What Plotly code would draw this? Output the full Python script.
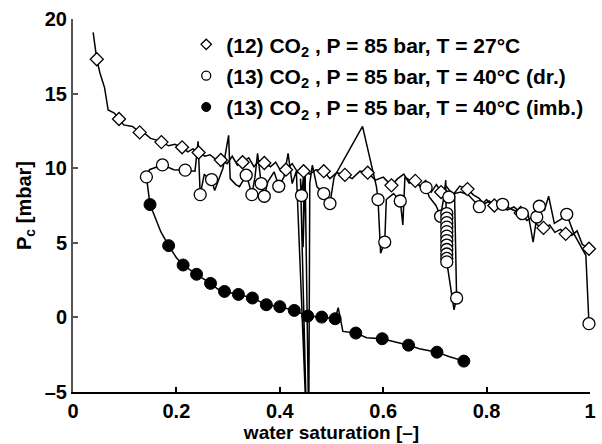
import plotly.graph_objects as go

# ---- series (12): CO2, P = 85 bar, T = 27 °C ----
sat_12_line = [0.039, 0.046, 0.052, 0.061, 0.068, 0.080, 0.089, 0.098, 0.115, 0.129,
               0.140, 0.150, 0.160, 0.171, 0.185, 0.197, 0.211, 0.222, 0.232, 0.243,
               0.255, 0.265, 0.276, 0.286, 0.298, 0.308, 0.318, 0.328, 0.340, 0.350,
               0.360, 0.370, 0.382, 0.392, 0.402, 0.412, 0.424, 0.435, 0.446, 0.458,
               0.470, 0.485, 0.497, 0.510, 0.526, 0.540, 0.555, 0.570, 0.585, 0.600,
               0.616, 0.628, 0.640, 0.650, 0.662, 0.673, 0.682, 0.693, 0.703, 0.712,
               0.722, 0.735, 0.748, 0.763, 0.775, 0.785, 0.795, 0.805, 0.815, 0.828,
               0.840, 0.853, 0.866, 0.878, 0.888, 0.898, 0.910, 0.922, 0.932, 0.943,
               0.953, 0.965, 0.975, 0.985, 0.998]
pc_12_line = [19.1, 17.3, 16.4, 15.4, 13.9, 13.7, 13.3, 12.9, 12.8, 12.4,
              12.3, 12.0, 11.9, 11.75, 11.5, 11.6, 11.4, 11.1, 11.3, 11.05,
              10.8, 10.9, 10.6, 10.55, 10.3, 10.8, 10.2, 10.4, 10.7, 10.1,
              10.5, 10.35, 10.1, 10.4, 9.8, 9.9, 10.3, 9.7, 9.8, 9.6,
              9.9, 9.8, 9.3, 9.7, 9.55, 9.3, 9.8, 9.7, 9.2, 9.4,
              8.85, 9.3, 9.6, 9.0, 9.15, 8.7, 9.2, 8.4, 8.9, 8.4,
              8.8, 8.2, 8.8, 8.6, 8.2, 8.0, 7.6, 7.8, 7.5, 7.7,
              7.2, 7.4, 7.0, 6.5, 6.7, 6.2, 6.0, 6.2, 5.7, 5.9,
              5.6, 5.5, 5.8, 4.9, 4.6]
sat_12_pts = [0.046, 0.089, 0.129, 0.171, 0.211, 0.243, 0.286, 0.328, 0.370, 0.412,
              0.446, 0.485, 0.526, 0.570, 0.616, 0.662, 0.712, 0.763, 0.815, 0.866,
              0.910, 0.953, 0.998]
pc_12_pts = [17.3, 13.3, 12.4, 11.75, 11.4, 11.05, 10.55, 10.4, 10.35, 9.9,
             9.8, 9.8, 9.55, 9.7, 8.85, 9.15, 8.4, 8.6, 7.5, 7.0,
             6.0, 5.6, 4.6]

# ---- series (13): CO2, P = 85 bar, T = 40 °C, drainage ----
sat_13d_line = [0.142, 0.148, 0.173, 0.195, 0.217, 0.236, 0.242, 0.246, 0.254, 0.262,
                0.268, 0.274, 0.290, 0.301, 0.304, 0.315, 0.322, 0.335, 0.340, 0.346,
                0.352, 0.357, 0.364, 0.370, 0.377, 0.389, 0.398, 0.408, 0.416, 0.424,
                0.432, 0.452, 0.440, 0.442, 0.447, 0.445, 0.449, 0.456, 0.458, 0.463,
                0.472, 0.485, 0.497, 0.505, 0.560, 0.587, 0.590, 0.595, 0.603, 0.606,
                0.620, 0.633, 0.638, 0.642, 0.660, 0.683, 0.689, 0.702, 0.711, 0.718,
                0.721, 0.723, 0.737, 0.742, 0.738, 0.750, 0.765, 0.786, 0.800, 0.815,
                0.831, 0.845, 0.858, 0.869, 0.880, 0.890, 0.897, 0.902, 0.912, 0.920,
                0.931, 0.945, 0.955, 0.969, 0.992, 0.998]
pc_13d_line = [9.42, 9.9, 10.22, 9.9, 9.87, 9.8, 11.8, 8.23, 9.6, 9.3,
               9.24, 8.5, 10.0, 12.2, 9.3, 8.9, 8.76, 9.53, 9.0, 8.23,
               9.4, 11.0, 8.97, 8.12, 9.1, 9.76, 8.79, 9.4, 11.0, 8.97,
               9.8, -7.5, 9.3, 8.17, 9.87, 4.7, 9.6, -7.5, 9.0, 10.2,
               8.75, 8.30, 7.63, 9.4, 12.8, 8.75, 7.90, 4.3, 5.05, 7.9,
               8.3, 7.80, 6.2, 9.4, 9.0, 8.70, 8.07, 7.5, 6.78, 8.2,
               9.2, 3.72, 0.5, 1.30, 8.3, 8.4, 8.2, 7.42, 7.9, 7.3,
               7.58, 7.3, 7.1, 6.96, 7.0, 5.05, 6.73, 7.45, 7.2, 8.12,
               6.3, 6.6, 6.91, 5.6, 4.16, -0.42]
sat_13d_pts = [0.142, 0.173, 0.217, 0.246, 0.268, 0.335, 0.346, 0.364, 0.370, 0.398,
               0.442, 0.485, 0.497, 0.590, 0.603, 0.633, 0.683, 0.711, 0.727,
               0.723, 0.723, 0.723, 0.723, 0.723, 0.723, 0.723, 0.723, 0.723, 0.723,
               0.723, 0.723,
               0.742, 0.786, 0.831, 0.869, 0.897, 0.902, 0.955, 0.998]
pc_13d_pts = [9.42, 10.22, 9.87, 8.23, 9.24, 9.53, 8.23, 8.97, 8.12, 8.79,
              8.17, 8.30, 7.63, 7.90, 5.05, 7.80, 8.70, 6.78, 8.07,
              6.96, 6.65, 6.35, 6.05, 5.75, 5.45, 5.15, 4.85, 4.55, 4.25,
              3.95, 3.72,
              1.30, 7.42, 7.58, 6.96, 6.73, 7.45, 6.91, -0.42]

# ---- series (13): CO2, P = 85 bar, T = 40 °C, imbibition ----
sat_13i_line = [0.142, 0.149, 0.170, 0.185, 0.200, 0.213, 0.239, 0.266, 0.280, 0.293,
                0.320, 0.347, 0.374, 0.400, 0.428, 0.454, 0.481, 0.507, 0.513, 0.522,
                0.547, 0.568, 0.598, 0.649, 0.670, 0.704, 0.727, 0.756]
pc_13i_line = [9.42, 7.56, 5.73, 4.81, 4.0, 3.51, 2.89, 2.28, 1.9, 1.74,
               1.54, 1.30, 0.85, 0.72, 0.47, 0.09, 0.02, -0.09, 0.65, -0.94,
               -1.05, -1.36, -1.43, -1.86, -2.1, -2.33, -2.62, -2.93]
sat_13i_pts = [0.149, 0.185, 0.213, 0.239, 0.266, 0.293, 0.320, 0.347, 0.374, 0.400,
               0.428, 0.454, 0.481, 0.507, 0.547, 0.598, 0.649, 0.704, 0.756]
pc_13i_pts = [7.56, 4.81, 3.51, 2.89, 2.28, 1.74, 1.54, 1.30, 0.85, 0.72,
              0.47, 0.09, 0.02, -0.09, -1.05, -1.43, -1.86, -2.33, -2.93]

labels = ["(12) CO<sub>2</sub> , P = 85 bar, T = 27°C",
          "(13) CO<sub>2</sub> , P = 85 bar, T = 40°C (dr.)",
          "(13) CO<sub>2</sub> , P = 85 bar, T = 40°C (imb.)"]

x_ticks = [0, 0.2, 0.4, 0.6, 0.8, 1]
x_tick_text = ["0", "0.2", "0.4", "0.6", "0.8", "1"]
y_ticks = [-5, 0, 5, 10, 15, 20]
y_tick_text = ["–5", "0", "5", "10", "15", "20"]

FONT = "Liberation Sans, Arial, sans-serif"
line_style = dict(color="black", width=1.5)

marker_styles = [
    dict(symbol="diamond", color="white", line=dict(color="black", width=1.3)),
    dict(symbol="circle", color="white", line=dict(color="black", width=1.3)),
    dict(symbol="circle", color="black", line=dict(color="black", width=1)),
]
plot_sizes = [10, 12, 12]
key_sizes = [8, 9, 9]

fig = go.Figure()

# connecting lines (drawn first, no legend)
for xs, ys in [(sat_12_line, pc_12_line), (sat_13d_line, pc_13d_line),
               (sat_13i_line, pc_13i_line)]:
    fig.add_trace(go.Scatter(x=xs, y=ys, mode="lines", line=line_style,
                             showlegend=False, hoverinfo="skip"))

# measured points
for xs, ys, style, size in zip([sat_12_pts, sat_13d_pts, sat_13i_pts],
                               [pc_12_pts, pc_13d_pts, pc_13i_pts],
                               marker_styles, plot_sizes):
    fig.add_trace(go.Scatter(x=xs, y=ys, mode="markers", showlegend=False,
                             marker=dict(size=size, **style), cliponaxis=False))

# legend keys with smaller symbols
for i, (name, style, size) in enumerate(zip(labels, marker_styles, key_sizes)):
    fig.add_trace(go.Scatter(x=[None], y=[None], mode="markers", name=name,
                             legendgroup=f"g{i}", marker=dict(size=size, **style)))

fig.update_layout(
    width=602, height=444,
    margin=dict(l=73, r=6, t=19, b=52),
    paper_bgcolor="white", plot_bgcolor="white",
    font=dict(family=FONT, color="black", size=19, weight="bold"),
    showlegend=True,
    legend=dict(x=0.219, y=0.986, xanchor="left", yanchor="top",
                bgcolor="rgba(0,0,0,0)", traceorder="grouped",
                tracegroupgap=1, itemsizing="trace",
                font=dict(family=FONT, size=21, color="black", weight="bold")),
    xaxis=dict(range=[0, 1], tickvals=x_ticks, ticktext=x_tick_text,
               showline=True, linecolor="black", linewidth=2,
               ticks="inside", ticklen=5, tickwidth=1.5, tickcolor="black",
               showgrid=False, zeroline=False,
               tickfont=dict(family=FONT, size=20, weight="bold"),
               title=dict(text="water saturation [–]", standoff=2,
                          font=dict(family=FONT, size=19, weight="bold"))),
    yaxis=dict(range=[-5, 20], tickvals=y_ticks, ticktext=y_tick_text,
               showline=True, linecolor="#555555", linewidth=2,
               ticks="inside", ticklen=5, tickwidth=1.5, tickcolor="#555555",
               showgrid=False, zeroline=False,
               tickfont=dict(family=FONT, size=20, weight="bold"),
               title=dict(text="P<sub>c</sub> [mbar]", standoff=8,
                          font=dict(family=FONT, size=20, weight="bold"))),
)

fig.write_html("out.html")
